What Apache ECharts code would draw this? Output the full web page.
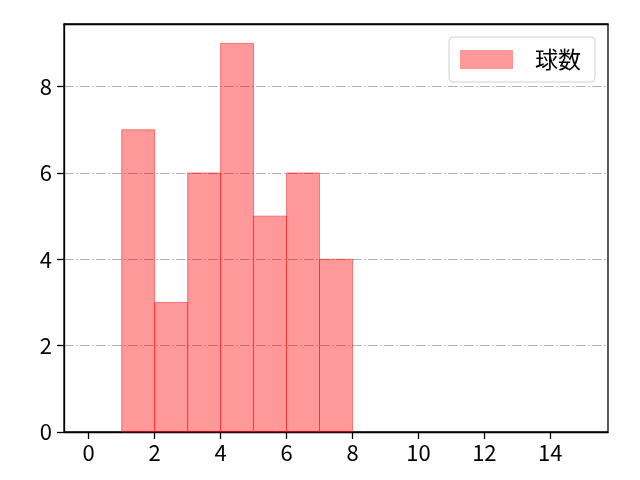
<!DOCTYPE html>
<html>
<head>
<meta charset="utf-8">
<script src="https://cdn.jsdelivr.net/npm/echarts@6/dist/echarts.min.js"></script>
<style>
  html, body { margin: 0; padding: 0; background: #fff; }
  #main { width: 640px; height: 480px; }
</style>
</head>
<body>
<div id="main"></div>
<script>
// histogram bins (left/right edges) and counts
const binLeft  = [1, 2, 3, 4, 5, 6, 7];
const binRight = [2, 3, 4, 5, 6, 7, 8];
const counts   = [7, 3, 6, 9, 5, 6, 4];
const xTicks = [0, 2, 4, 6, 8, 10, 12, 14];
const seriesName = '球数';

const font = '"Noto Sans CJK JP", "DejaVu Sans", sans-serif';

const barData = binLeft.map(function (l, i) { return [l, binRight[i], counts[i]]; });

const chart = echarts.init(document.getElementById('main'));

chart.setOption({
  animation: false,
  textStyle: { fontFamily: font },
  grid: {
    left: 64, right: 32, top: 24, bottom: 48,
    show: true, borderColor: '#000', borderWidth: 1.3, backgroundColor: 'transparent'
  },
  legend: {
    data: [{ name: seriesName, icon: 'rect' }],
    right: 45, top: 37,
    itemWidth: 53, itemHeight: 19, itemGap: 10,
    padding: [11, 14, 11, 11],
    borderColor: '#d0d0d0', borderWidth: 1, borderRadius: 4,
    textStyle: { fontSize: 23, color: '#000', padding: [0, 0, 0, 17], fontFamily: font }
  },
  xAxis: [{
    type: 'value',
    min: -0.75, max: 15.75,
    axisLine: { show: true, onZero: false, lineStyle: { color: '#000', width: 1.3 } },
    axisTick: { show: true, length: 7, customValues: xTicks, lineStyle: { color: '#000', width: 1.3 } },
    axisLabel: { customValues: xTicks, fontSize: 22, color: '#000', margin: 10, fontFamily: font },
    splitLine: { show: false }
  }, {
    // top frame line drawn over the last grid line
    type: 'value', position: 'top',
    min: -0.75, max: 15.75,
    axisLine: { show: true, onZero: false, lineStyle: { color: '#000', width: 1.3 } },
    axisTick: { show: false },
    axisLabel: { show: false },
    splitLine: { show: false }
  }],
  yAxis: {
    type: 'value',
    min: 0, max: 9.45, interval: 2,
    axisLine: { show: true, onZero: false, lineStyle: { color: '#000', width: 1.3 } },
    axisTick: { show: true, length: 7, lineStyle: { color: '#000', width: 1.3 } },
    axisLabel: {
      fontSize: 22, color: '#000', margin: 12, fontFamily: font,
      showMaxLabel: false
    },
    splitLine: { show: true, lineStyle: { color: '#b0b0b0', width: 1, type: [9.6, 2.4, 1.6, 2.4] } }
  },
  series: [{
    name: seriesName,
    type: 'custom',
    xAxisIndex: 0,
    itemStyle: { color: 'rgba(255,0,0,0.4)' },
    encode: { x: [0, 1], y: 2 },
    data: barData,
    renderItem: function (params, api) {
      const p0 = api.coord([api.value(0), api.value(2)]);
      const p1 = api.coord([api.value(1), 0]);
      return {
        type: 'rect',
        shape: { x: p0[0], y: p0[1], width: p1[0] - p0[0], height: p1[1] - p0[1] },
        style: { fill: 'rgba(255,0,0,0.4)', stroke: 'rgba(255,0,0,0.45)', lineWidth: 1 }
      };
    }
  }]
});
</script>
</body>
</html>
